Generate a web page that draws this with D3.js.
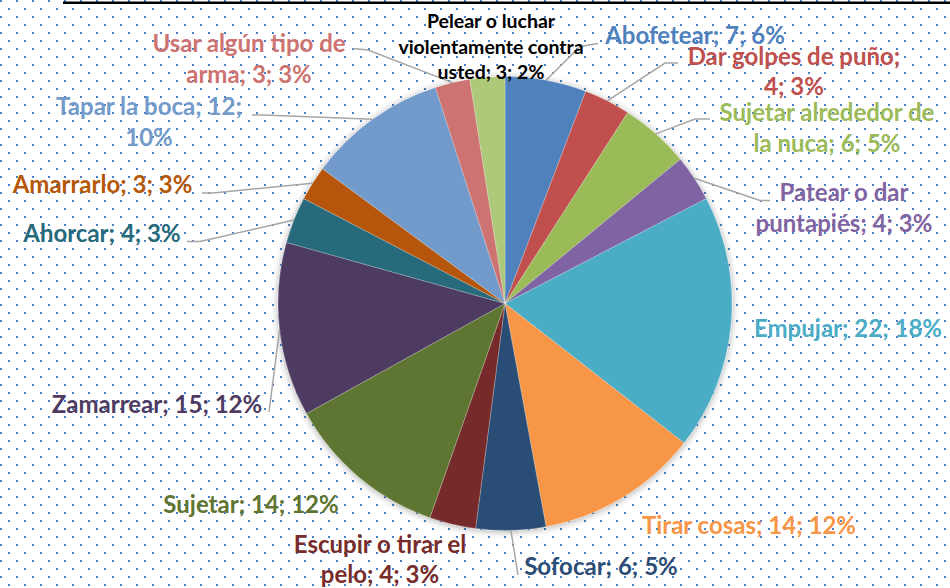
<!DOCTYPE html>
<html>
<head>
<meta charset="utf-8">
<script src="https://cdn.jsdelivr.net/npm/d3@7"></script>
<style>
  html, body { margin: 0; padding: 0; background: #fff; }
  svg { display: block; }
  text { font-family: "Lato", "Open Sans", sans-serif; font-weight: 700; }
</style>
</head>
<body>
<svg id="chart" width="950" height="588"></svg>
<script>
// ---------------- DATA ----------------
const categories = [
  "Abofetear", "Dar golpes de puño", "Sujetar alrededor de la nuca",
  "Patear o dar puntapiés", "Empujar", "Tirar cosas", "Sofocar",
  "Escupir o tirar el pelo", "Sujetar", "Zamarrear", "Ahorcar",
  "Amarrarlo", "Tapar la boca", "Usar algún tipo de arma",
  "Pelear o luchar violentamente contra usted"
];
const values = [7, 4, 6, 4, 22, 14, 6, 4, 14, 15, 4, 3, 12, 3, 3];
const percentLabels = ["6%", "3%", "5%", "3%", "18%", "12%", "5%", "3%", "12%", "12%", "3%", "3%", "10%", "3%", "2%"];
// how each label wraps (text content, split into lines)
const labelLines = [
  ["Abofetear; 7; 6%"],
  ["Dar golpes de puño;", "4; 3%"],
  ["Sujetar alrededor de", "la nuca; 6; 5%"],
  ["Patear o dar", "puntapiés; 4; 3%"],
  ["Empujar; 22; 18%"],
  ["Tirar cosas; 14; 12%"],
  ["Sofocar; 6; 5%"],
  ["Escupir o tirar el", "pelo; 4; 3%"],
  ["Sujetar; 14; 12%"],
  ["Zamarrear; 15; 12%"],
  ["Ahorcar; 4; 3%"],
  ["Amarrarlo; 3; 3%"],
  ["Tapar la boca; 12;", "10%"],
  ["Usar algún tipo de", "arma; 3; 3%"],
  ["Pelear o luchar", "violentamente contra", "usted; 3; 2%"]
];

// ---------------- STYLE / LAYOUT ----------------
const sliceColors = [
  "#4F81BD", "#C0504D", "#9BBB59", "#8064A2", "#4BACC6", "#F79646",
  "#2C4D75", "#772C2A", "#5F7530", "#4D3B62", "#276A7C", "#B65708",
  "#729ACA", "#CD7371", "#AFC97A"
];
const labelColors = sliceColors.map((c, i) => i === 14 ? "#000000" : c);

const W = 950, H = 588;
const cx = 505, cy = 303.5, R = 227;

// label anchor: center x, first baseline y, font size, line height
const labelLayout = [
  {x: 695, y: 44, fs: 24, lh: 30},
  {x: 794, y: 65, fs: 24, lh: 30},
  {x: 827, y: 121, fs: 24, lh: 31},
  {x: 844, y: 201, fs: 24, lh: 31},
  {x: 848, y: 337, fs: 24, lh: 30},
  {x: 749, y: 534, fs: 24, lh: 30},
  {x: 601, y: 575, fs: 24, lh: 30},
  {x: 380, y: 553, fs: 24, lh: 30},
  {x: 251, y: 513, fs: 24, lh: 30},
  {x: 157, y: 413, fs: 24, lh: 30},
  {x: 102, y: 242, fs: 24, lh: 30},
  {x: 102.5, y: 193, fs: 24, lh: 30},
  {x: 149, y: 115, fs: 24, lh: 31},
  {x: 249, y: 52, fs: 24, lh: 31},
  {x: 491, y: 28, fs: 19.5, lh: 25.5}
];
// leader line points after the arc point (null = no leader)
const leaderPoints = [
  [[580, 46.5], [598, 43.5]],
  [[665, 63], [678, 63]],
  [[695, 119], [710, 119]],
  [[760, 200.5], [770, 200.5]],
  null,
  null,
  [[518, 575]],
  null,
  null,
  [[269, 412]],
  [[200, 241.5], [187, 241.5]],
  [[213, 193], [202, 193]],
  [[263, 115], [252, 115]],
  [[368, 50], [353, 48.5]],
  null
];

// ---------------- DRAW ----------------
const svg = d3.select("#chart");
const defs = svg.append("defs");

const pat = defs.append("pattern")
  .attr("id", "dots").attr("patternUnits", "userSpaceOnUse")
  .attr("width", 16).attr("height", 16);
pat.append("rect").attr("x", 0).attr("y", 0).attr("width", 2).attr("height", 2).attr("fill", "#4A7EC0");
pat.append("rect").attr("x", 8).attr("y", 8).attr("width", 2).attr("height", 2).attr("fill", "#4A7EC0");

const shadow = defs.append("filter").attr("id", "shadow")
  .attr("x", "-10%").attr("y", "-10%").attr("width", "120%").attr("height", "120%");
shadow.append("feDropShadow").attr("dx", 0).attr("dy", 1).attr("stdDeviation", 3.5)
  .attr("flood-color", "#000").attr("flood-opacity", 0.35);

svg.append("rect").attr("width", W).attr("height", H).attr("fill", "#fff");
svg.append("rect").attr("width", W).attr("height", H).attr("fill", "url(#dots)");

// top border line
svg.append("line").attr("x1", 63).attr("x2", W).attr("y1", 2.8).attr("y2", 2.8)
  .attr("stroke", "#000").attr("stroke-width", 2.4);

const data = categories.map((c, i) => ({cat: c, value: values[i], i}));
const pie = d3.pie().value(d => d.value).sort(null);
const arcs = pie(data);
const arc = d3.arc().innerRadius(0).outerRadius(R);
const edgeArc = d3.arc().innerRadius(R).outerRadius(R);

const g = svg.append("g").attr("transform", `translate(${cx},${cy})`);
const pieG = g.append("g").attr("filter", "url(#shadow)");
pieG.selectAll("path").data(arcs).join("path")
  .attr("d", arc)
  .attr("fill", d => sliceColors[d.data.i])
  .attr("stroke", "#ffffff").attr("stroke-width", 0.4).attr("stroke-opacity", 0.6);

// leader lines
const lineGen = d3.line();
arcs.forEach(d => {
  const pts = leaderPoints[d.data.i];
  if (!pts) return;
  const [ex, ey] = edgeArc.centroid(d);
  const all = [[cx + ex, cy + ey]].concat(pts);
  svg.append("path").attr("d", lineGen(all))
    .attr("fill", "none").attr("stroke", "#A6A6A6").attr("stroke-width", 1.5);
});

// labels
arcs.forEach(d => {
  const i = d.data.i;
  const L = labelLayout[i];
  const t = svg.append("text")
    .attr("text-anchor", "middle")
    .attr("font-size", L.fs)
    .attr("fill", labelColors[i]);
  labelLines[i].forEach((ln, k) => {
    t.append("tspan").attr("x", L.x).attr("y", L.y + k * L.lh).text(ln);
  });
});
</script>
</body>
</html>
